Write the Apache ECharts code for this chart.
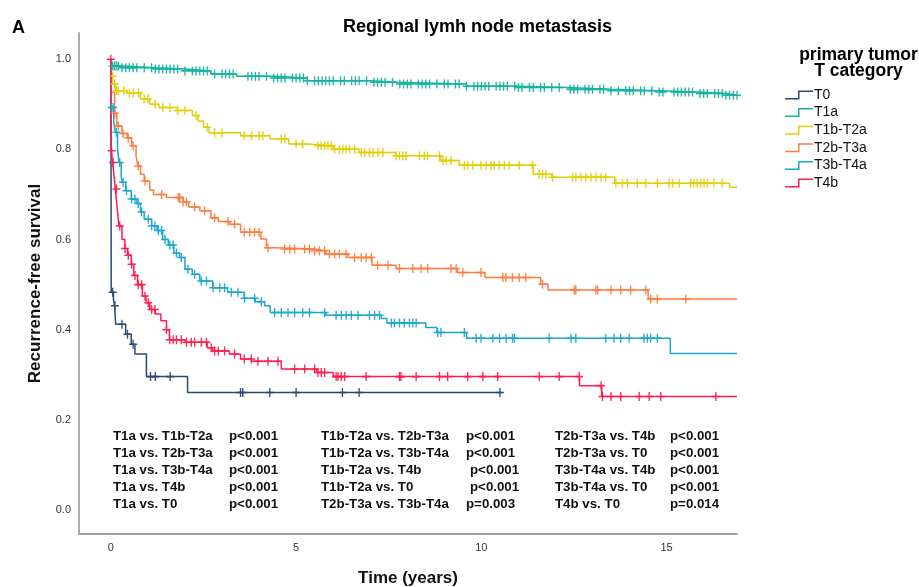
<!DOCTYPE html>
<html>
<head>
<meta charset="utf-8">
<script src="https://cdn.jsdelivr.net/npm/echarts@6/dist/echarts.min.js"></script>
<style>
  html, body { margin: 0; padding: 0; background: #fff; }
  #chart { width: 919px; height: 587px; }
</style>
</head>
<body>
<div id="chart"></div>
<script>
// Kaplan-Meier recurrence-free survival by primary tumor T category.
// Each step array holds [time in years, survival from that time on].

const groupNames = ['T0', 'T1a', 'T1b-T2a', 'T2b-T3a', 'T3b-T4a', 'T4b'];

const stepsT0 = [[0, 1], [0.01, 0.483], [0.07, 0.468], [0.1, 0.453], [0.13, 0.412], [0.4, 0.39],
  [0.55, 0.368], [0.65, 0.346], [0.96, 0.296], [2.07, 0.261], [10.57, 0.261]];
const censorT0 = [0.05, 0.11, 0.3, 0.45, 0.6, 1.07, 1.2, 1.6, 3.5, 3.56, 4.29, 5.0, 6.25, 6.7, 10.5];

const stepsT1a = [[0, 1], [0.01, 0.985], [0.3, 0.981], [1.2, 0.978], [2.0, 0.974], [2.7, 0.967],
  [3.4, 0.962], [4.4, 0.958], [5.3, 0.952], [7.0, 0.949], [7.7, 0.945], [9.6, 0.94], [11.0, 0.937],
  [12.3, 0.933], [13.5, 0.93], [14.8, 0.927], [15.8, 0.924], [16.6, 0.92], [16.9, 0.92]];
const censorT1a = [0.05, 0.1, 0.15, 0.2, 0.3, 0.4, 0.5, 0.6, 0.7, 0.9, 1.1, 1.2, 1.3, 1.4, 1.5, 1.6,
  1.7, 1.8, 2.0, 2.2, 2.3, 2.4, 2.5, 2.6, 2.8, 3.0, 3.1, 3.2, 3.3, 3.7, 3.8, 3.9, 4.0, 4.2, 4.4, 4.5,
  4.6, 4.7, 4.9, 5.0, 5.1, 5.2, 5.3, 5.5, 5.6, 5.7, 5.8, 5.9, 6.0, 6.2, 6.3, 6.5, 6.6, 6.7, 6.9, 7.1,
  7.2, 7.3, 7.4, 7.6, 7.8, 7.9, 8.0, 8.1, 8.3, 8.4, 8.5, 8.6, 8.8, 9.0, 9.1, 9.3, 9.4, 9.6, 9.8, 9.9,
  10.0, 10.1, 10.2, 10.4, 10.5, 10.6, 10.7, 10.9, 11.0, 11.1, 11.3, 11.4, 11.6, 11.7, 11.9, 12.1,
  12.4, 12.5, 12.6, 12.8, 12.9, 13.0, 13.2, 13.3, 13.5, 13.7, 13.9, 14.0, 14.1, 14.3, 14.4, 14.6,
  14.8, 14.9, 15.2, 15.3, 15.4, 15.5, 15.6, 15.7, 15.9, 16.0, 16.1, 16.3, 16.4, 16.5, 16.6, 16.7,
  16.8, 16.9];

const stepsT1bT2a = [[0, 1], [0.01, 0.962], [0.06, 0.945], [0.12, 0.93], [0.45, 0.925], [0.8, 0.912],
  [1.05, 0.9], [1.3, 0.893], [1.8, 0.886], [2.2, 0.875], [2.35, 0.863], [2.5, 0.849], [2.65, 0.837],
  [3.5, 0.83], [4.3, 0.823], [4.8, 0.812], [5.3, 0.808], [6.0, 0.8], [6.7, 0.793], [7.7, 0.786],
  [8.9, 0.775], [9.4, 0.765], [11.4, 0.745], [11.9, 0.738], [13.6, 0.725], [16.7, 0.716], [16.9, 0.716]];
const censorT1bT2a = [0.05, 0.1, 0.15, 0.2, 0.35, 0.5, 0.6, 0.75, 0.9, 1.0, 1.2, 1.4, 1.6, 1.8, 2.0,
  2.3, 2.6, 2.8, 3.0, 3.6, 3.8, 4.0, 4.1, 4.6, 4.7, 5.0, 5.18, 5.59, 5.68, 5.77, 5.86, 5.95, 6.04,
  6.17, 6.26, 6.35, 6.44, 6.58, 6.76, 6.85, 6.98, 7.07, 7.21, 7.34, 7.7, 7.79, 7.88, 7.97, 8.33, 8.46,
  8.55, 8.87, 8.96, 9.05, 9.18, 9.54, 9.63, 9.77, 9.99, 10.13, 10.26, 10.35, 10.48, 10.62, 10.75,
  11.02, 11.38, 11.56, 11.65, 11.74, 11.92, 12.46, 12.55, 12.69, 12.82, 12.96, 13.09, 13.23, 13.36,
  13.63, 13.81, 13.94, 14.21, 14.44, 14.75, 15.07, 15.16, 15.34, 15.65, 15.74, 15.83, 15.92, 16.01,
  16.1, 16.28, 16.5];

const stepsT2bT3a = [[0, 1], [0.01, 0.926], [0.1, 0.88], [0.16, 0.852], [0.3, 0.835], [0.45, 0.825],
  [0.56, 0.808], [0.68, 0.785], [0.73, 0.763], [0.8, 0.745], [0.9, 0.73], [1.05, 0.71], [1.15, 0.7],
  [1.5, 0.693], [1.95, 0.683], [2.1, 0.672], [2.4, 0.664], [2.7, 0.648], [2.9, 0.64], [3.2, 0.634],
  [3.5, 0.616], [4.05, 0.601], [4.2, 0.582], [4.4, 0.579], [5.5, 0.575], [5.8, 0.568], [6.4, 0.56],
  [7.05, 0.543], [7.7, 0.536], [9.35, 0.527], [10.1, 0.516], [11.6, 0.501], [11.8, 0.488],
  [14.5, 0.468], [16.9, 0.468]];
const censorT2bT3a = [0.11, 0.2, 0.33, 0.47, 0.6, 0.74, 0.92, 1.37, 1.82, 1.86, 1.95, 2.04, 2.26,
  2.53, 2.8, 3.16, 3.34, 3.6, 3.75, 3.88, 4.0, 4.24, 4.69, 4.83, 4.96, 5.23, 5.36, 5.5, 5.63, 5.77,
  5.9, 6.04, 6.17, 6.35, 6.58, 6.76, 6.89, 7.03, 7.2, 7.48, 7.79, 8.15, 8.37, 8.55, 9.18, 9.32, 9.5,
  9.99, 10.58, 10.66, 10.84, 11.02, 11.2, 11.65, 12.51, 12.55, 13.09, 13.14, 13.5, 13.76, 14.03,
  14.44, 14.57, 14.75, 15.52];

const stepsT3bT4a = [[0, 1], [0.01, 0.893], [0.08, 0.86], [0.12, 0.838], [0.18, 0.8], [0.22, 0.771],
  [0.28, 0.74], [0.3, 0.727], [0.4, 0.708], [0.55, 0.69], [0.7, 0.68], [0.8, 0.661], [0.9, 0.645],
  [1.1, 0.63], [1.25, 0.62], [1.4, 0.6], [1.55, 0.588], [1.7, 0.57], [1.85, 0.56], [2.0, 0.534],
  [2.2, 0.523], [2.4, 0.508], [2.75, 0.493], [3.15, 0.483], [3.6, 0.47], [3.9, 0.462], [4.15, 0.453],
  [4.3, 0.438], [5.8, 0.432], [7.3, 0.425], [7.45, 0.415], [8.5, 0.405], [8.8, 0.394], [9.6, 0.381],
  [15.1, 0.347], [16.9, 0.347]];
const censorT3bT4a = [0.02, 0.06, 0.15, 0.24, 0.33, 0.42, 0.56, 0.65, 0.74, 0.83, 1.01, 1.1, 1.19,
  1.28, 1.37, 1.46, 1.59, 1.68, 1.77, 1.9, 2.08, 2.26, 2.44, 2.58, 2.76, 2.94, 3.07, 3.25, 3.43, 3.61,
  3.88, 4.06, 4.42, 4.6, 4.78, 4.96, 5.18, 5.36, 5.77, 6.08, 6.22, 6.35, 6.49, 6.67, 6.98, 7.12, 7.25,
  7.57, 7.65, 7.79, 7.92, 8.06, 8.15, 8.24, 8.82, 8.91, 9.54, 9.86, 9.99, 10.31, 10.49, 10.67, 10.84,
  10.89, 11.83, 12.42, 12.55, 13.36, 13.58, 13.76, 13.99, 14.39, 14.48, 14.57, 14.75];

const stepsT4b = [[0, 1], [0.01, 0.797], [0.05, 0.771], [0.1, 0.73], [0.12, 0.712], [0.17, 0.67],
  [0.22, 0.63], [0.3, 0.6], [0.38, 0.58], [0.45, 0.565], [0.55, 0.545], [0.62, 0.52], [0.72, 0.5],
  [0.85, 0.475], [0.95, 0.46], [1.05, 0.445], [1.2, 0.435], [1.35, 0.42], [1.5, 0.4], [1.58, 0.378],
  [2.0, 0.372], [2.6, 0.36], [2.75, 0.353], [3.2, 0.346], [3.5, 0.335], [3.8, 0.33], [4.6, 0.313],
  [5.55, 0.305], [6.0, 0.296], [12.65, 0.276], [13.25, 0.252], [16.9, 0.252]];
const censorT4b = [0, 0.02, 0.06, 0.15, 0.24, 0.38, 0.47, 0.56, 0.65, 0.74, 0.83, 0.92, 1.01, 1.1,
  1.19, 1.5, 1.59, 1.68, 1.77, 1.9, 2.04, 2.17, 2.26, 2.44, 2.58, 2.71, 2.8, 2.9, 3.07, 3.34, 3.6,
  3.79, 3.97, 4.24, 4.51, 4.96, 5.5, 5.23, 5.59, 5.68, 5.77, 6.08, 6.13, 6.22, 6.31, 6.89, 7.79, 7.83,
  8.24, 8.87, 9.09, 9.63, 10.04, 10.44, 11.56, 12.1, 12.64, 13.23, 13.27, 13.5, 13.76, 14.26, 14.53,
  14.84, 16.33];

const xTicks = [0, 5, 10, 15];
const yTicks = [0, 0.2, 0.4, 0.6, 0.8, 1.0];

// Pairwise log-rank comparisons, three columns of five rows
const compareCol1 = ['T1a vs. T1b-T2a', 'T1a vs. T2b-T3a', 'T1a vs. T3b-T4a', 'T1a vs. T4b', 'T1a vs. T0'];
const pValCol1 = ['p<0.001', 'p<0.001', 'p<0.001', 'p<0.001', 'p<0.001'];
const compareCol2 = ['T1b-T2a vs. T2b-T3a', 'T1b-T2a vs. T3b-T4a', 'T1b-T2a vs. T4b', 'T1b-T2a vs. T0', 'T2b-T3a vs. T3b-T4a'];
const pValCol2 = ['p<0.001', 'p<0.001', 'p<0.001', 'p<0.001', 'p=0.003'];
const compareCol3 = ['T2b-T3a vs. T4b', 'T2b-T3a vs. T0', 'T3b-T4a vs. T4b', 'T3b-T4a vs. T0', 'T4b vs. T0'];
const pValCol3 = ['p<0.001', 'p<0.001', 'p<0.001', 'p<0.001', 'p=0.014'];

// ---- rendering ----
const FONT = '"Liberation Sans", Arial, Helvetica, sans-serif';
const colors = ['#284a6e', '#15b2a0', '#e2cd0a', '#ff7b3e', '#1ca6cc', '#ff1d4f'];
const stepSets = [stepsT0, stepsT1a, stepsT1bT2a, stepsT2bT3a, stepsT3bT4a, stepsT4b];
const censorSets = [censorT0, censorT1a, censorT1bT2a, censorT2bT3a, censorT3bT4a, censorT4b];

function survivalAt(steps, t) {
  let s = steps[0][1];
  for (const [time, value] of steps) {
    if (time <= t) s = value; else break;
  }
  return s;
}

const crossSymbol = 'path://M4.15,0H5.85V10H4.15ZM0,4.15H10V5.85H0Z';
const stepIcon = 'path://M0,7.5H13V0H28V1.5H14.5V9H0Z';

const series = [];
groupNames.forEach((name, i) => {
  series.push({
    name: name,
    type: 'line',
    step: 'end',
    data: stepSets[i],
    showSymbol: false,
    silent: true,
    z: 2,
    itemStyle: { color: colors[i] },
    lineStyle: { color: colors[i], width: 1.5 }
  });
});
groupNames.forEach((name, i) => {
  series.push({
    name: name,
    type: 'scatter',
    data: censorSets[i].map(t => [t, survivalAt(stepSets[i], t)]),
    symbol: crossSymbol,
    symbolSize: [8, 9],
    silent: true,
    z: 3,
    itemStyle: { color: colors[i], opacity: 0.95 }
  });
});

// p-value block layout
const pRows = [437.5, 454.5, 471.5, 488.5, 505.5];
const pText = (text, x, y) => ({
  type: 'text', left: x, top: y - 8,
  style: { text: text, font: 'bold 13.3px ' + FONT, fill: '#111' }
});
const pGraphics = [];
pRows.forEach((y, r) => {
  pGraphics.push(pText(compareCol1[r], 113, y));
  pGraphics.push(pText(pValCol1[r], 229, y));
  pGraphics.push(pText(compareCol2[r], 321, y));
  pGraphics.push(pText(pValCol2[r], (r === 2 || r === 3) ? 470 : 466, y));
  pGraphics.push(pText(compareCol3[r], 555, y));
  pGraphics.push(pText(pValCol3[r], 670, y));
});

const chart = echarts.init(document.getElementById('chart'), null, { renderer: 'canvas' });
chart.setOption({
  animation: false,
  backgroundColor: '#ffffff',
  textStyle: { fontFamily: FONT },
  grid: { left: 79, right: 182, top: 33, bottom: 53, containLabel: false, outerBoundsMode: 'none' },
  xAxis: {
    type: 'value',
    min: -0.86,
    max: 16.9,
    name: 'Time (years)',
    nameLocation: 'middle',
    nameGap: 36,
    nameTextStyle: { fontFamily: FONT, fontWeight: 'bold', fontSize: 17, color: '#111' },
    axisLine: { show: true, onZero: false, lineStyle: { color: '#a3a3a3', width: 1.8 } },
    axisTick: { show: false },
    splitLine: { show: false },
    axisLabel: {
      customValues: xTicks,
      margin: 8,
      fontSize: 11,
      color: '#333',
      fontFamily: FONT,
      formatter: v => String(v)
    }
  },
  yAxis: {
    type: 'value',
    min: -0.053,
    max: 1.058,
    name: 'Recurrence-free survival',
    nameLocation: 'middle',
    nameGap: 35,
    nameTextStyle: { fontFamily: FONT, fontWeight: 'bold', fontSize: 17, color: '#111' },
    axisLine: { show: true, onZero: false, lineStyle: { color: '#a3a3a3', width: 1.8 } },
    axisTick: { show: false },
    splitLine: { show: false },
    axisLabel: {
      customValues: yTicks,
      margin: 8,
      fontSize: 11,
      color: '#333',
      fontFamily: FONT,
      formatter: v => v.toFixed(1)
    }
  },
  legend: {
    data: groupNames,
    orient: 'vertical',
    left: 785,
    top: 87,
    padding: 0,
    icon: stepIcon,
    itemWidth: 28,
    itemHeight: 9,
    itemGap: 1.6,
    selectedMode: false,
    itemStyle: { borderWidth: 0 },
    textStyle: { fontFamily: FONT, fontSize: 14, color: '#111', lineHeight: 16, padding: [0, 0, 0, -4] }
  },
  graphic: [
    { type: 'text', left: 12, top: 19, style: { text: 'A', font: 'bold 18px ' + FONT, fill: '#000' } },
    { type: 'text', x: 477.5, y: 27, style: { text: 'Regional lymh node metastasis', font: 'bold 18px ' + FONT, fill: '#000', textAlign: 'center', textVerticalAlign: 'middle' } },
    { type: 'text', x: 858.5, y: 55, style: { text: 'primary tumor', font: 'bold 17.5px ' + FONT, fill: '#000', textAlign: 'center', textVerticalAlign: 'middle' } },
    { type: 'text', x: 858.5, y: 71, style: { text: 'T category', font: 'bold 17.5px ' + FONT, fill: '#000', textAlign: 'center', textVerticalAlign: 'middle' } }
  ].concat(pGraphics),
  series: series
});
</script>
</body>
</html>
